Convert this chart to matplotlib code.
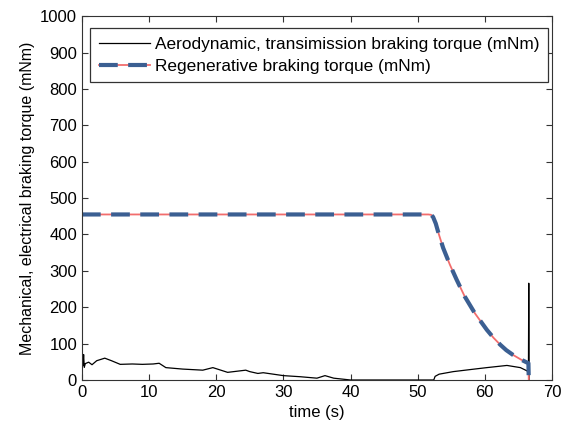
import matplotlib.pyplot as plt
import numpy as np

plt.rcParams['font.family'] = ['Liberation Sans', 'DejaVu Sans']

# Aerodynamic + transmission braking torque (mNm)
t_aero = [0, 0.05, 0.15, 0.25, 0.35, 0.5, 1.0, 1.5, 2.2, 3.4, 4.4, 5.7, 7.5, 9.0, 10.6,
          11.5, 12.5, 15.0, 18.0, 19.5, 21.7, 24.4, 25.0, 26.2, 27.0, 30.0, 32.5,
          35.0, 36.2, 37.5, 40.0, 52.4, 52.6, 53.2, 55.3, 58.0, 60.3, 63.3, 65.3,
          66.3, 66.5, 66.55, 66.6]
aero = [0, 80, 40, 70, 35, 45, 49, 42, 53, 60, 53, 43, 44, 43, 44,
        46, 34, 30, 27, 34, 21, 27, 23, 18, 20, 12, 9,
        5, 12, 5, 0, 0, 10, 16, 23, 29, 34, 40, 34,
        25, 20, 266, 0]

# Regenerative braking torque (mNm)
t_regen = [0, 51.6, 52.0, 52.3, 52.7, 53.1, 53.8, 54.8, 55.8, 57.0, 58.5, 60.3,
           61.3, 62.3, 63.2, 64.2, 65.4, 66.5, 66.55]
regen = [455, 455, 454, 448, 430, 404, 363, 317, 276, 230, 184, 138,
         116, 97, 82, 69, 56, 46, 0]

fig = plt.figure(figsize=(5.69, 4.26), dpi=100)
ax = fig.add_axes([0.144, 0.108, 0.826, 0.854])

ax.plot(t_aero, aero, color='black', lw=0.9)
ax.plot(t_regen, regen, color='#f26d6d', lw=1.3)
ax.plot(t_regen, regen, color='#3b5f92', lw=3, dashes=(4.5, 2.5))

# legend proxies combining both styles
h_aero, = ax.plot([], [], color='black', lw=0.9)
h_red, = ax.plot([], [], color='#f26d6d', lw=1.3)
h_blue, = ax.plot([], [], color='#3b5f92', lw=3, dashes=(4.5, 2.5))
leg = ax.legend([h_aero, (h_red, h_blue)],
                ['Aerodynamic, transimission braking torque (mNm)',
                 'Regenerative braking torque (mNm)'],
                loc='upper left', bbox_to_anchor=(0.017, 0.967), borderaxespad=0,
                fontsize=12.4, fancybox=False, edgecolor='#333333', framealpha=1,
                handlelength=3.0, borderpad=0.5, labelspacing=0.4,
                handletextpad=0.3)
leg.get_frame().set_linewidth(0.9)

ax.set_xlim(0, 70)
ax.set_ylim(0, 1000)
ax.set_xticks(np.arange(0, 71, 10))
ax.set_yticks(np.arange(0, 1001, 100))
ax.tick_params(direction='in', top=True, right=True, labelsize=12, length=4,
               color='#333333')
for s in ax.spines.values():
    s.set_color('#333333')
ax.set_xlabel('time (s)', fontsize=12)
ax.set_ylabel('Mechanical, electrical braking torque (mNm)', fontsize=11.5)

fig.savefig('out.png', dpi=100)
